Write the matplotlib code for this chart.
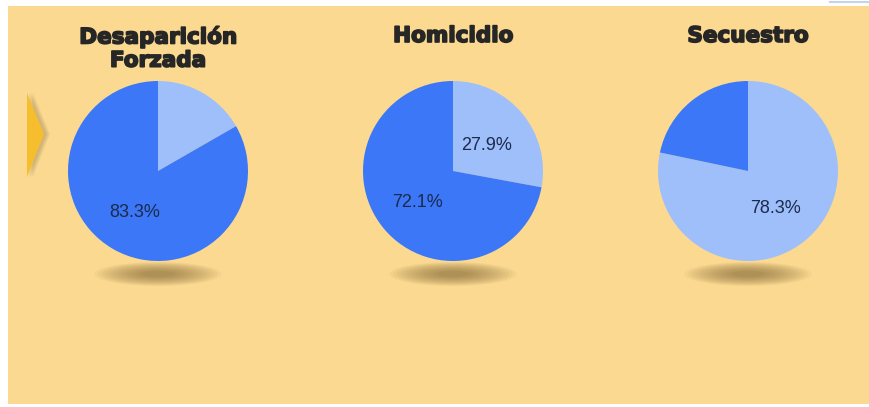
import matplotlib.pyplot as plt
import matplotlib.patheffects as pe
import numpy as np
from matplotlib.patches import Ellipse, Polygon, Rectangle

# data
titles = ['Desaparición\nForzada', 'Homicidio', 'Secuestro']
light_share = [16.7, 27.9, 78.3]
dark_share = [83.3, 72.1, 21.7]

bg = '#fbd991'
light_blue = '#9ebffa'
dark_blue = '#3b77f7'
W, H = 870, 407

fig = plt.figure(figsize=(8.7, 4.07), dpi=100)
ax = fig.add_axes([0, 0, 1, 1])
ax.set_axis_off()

# page background + panel
ax.add_patch(Rectangle((0, 0), W, H, facecolor='white', edgecolor='none', zorder=0))
ax.add_patch(Rectangle((8, 3), W - 8, H - 9, facecolor=bg, edgecolor='none', zorder=0.5))
ax.plot([830, 870], [H - 2, H - 2], color='#c5d3ea', lw=1.5, zorder=1)

# yellow arrow with soft shadow on its right
arrow = np.array([[27, H - 93], [44, H - 134], [27, H - 177]])
for k in range(8):
    sh = arrow + np.array([2 + k * 0.6, 0])
    ax.add_patch(Polygon(sh, closed=True, facecolor='#8a7a50', edgecolor='none',
                         alpha=0.05, zorder=1))
ax.add_patch(Polygon(arrow, closed=True, facecolor='#f6bd2f', edgecolor='none', zorder=2))

centers = [158, 453, 748]
cy_pie = H - 171
r = 90

for i, cx in enumerate(centers):
    # blurred shadow under the pie
    for k in range(14):
        f = 1 - k / 14
        ax.add_patch(Ellipse((cx, H - 274), 105 * f + 22, 20 * f + 4,
                             facecolor='#7d6435', edgecolor='none', alpha=0.06, zorder=1))

    vals = [light_share[i], dark_share[i]]
    wedges, texts, autotexts = ax.pie(
        vals, colors=[light_blue, dark_blue], startangle=90, counterclock=False,
        center=(cx, cy_pie), radius=r, pctdistance=0.5,
        autopct=lambda p: '%.1f%%' % p if p > 25 else '',
        wedgeprops={'linewidth': 0},
        textprops={'fontsize': 13, 'color': '#1c2a4e', 'family': 'Liberation Sans'})
    for wdg in wedges:
        wdg.set_zorder(3)
    for t in autotexts:
        t.set_zorder(4)
        x, y = t.get_position()
        t.set_position((x - 1, y - 3))

    ax.text(cx, H - 26, titles[i], ha='center', va='top', fontsize=15.5,
            fontweight='bold', family='DejaVu Sans', color='#262626',
            linespacing=1.2, zorder=4,
            path_effects=[pe.withStroke(linewidth=1.2, foreground='#262626')])

ax.set_xlim(0, W)
ax.set_ylim(0, H)
ax.set_aspect('auto')
ax.set_position([0, 0, 1, 1])

plt.savefig('out.png', dpi=100)
